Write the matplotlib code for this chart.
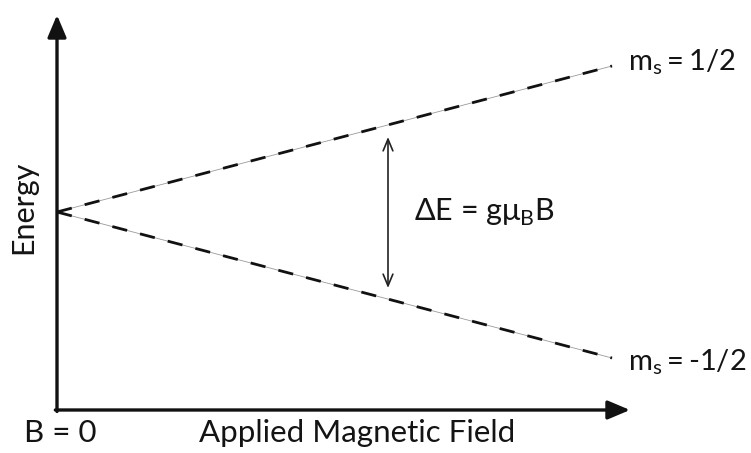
import matplotlib
matplotlib.use("Agg")
import matplotlib.pyplot as plt

# Data: Zeeman splitting of electron spin levels
field = [0.0, 1.0]                 # applied magnetic field (arbitrary units)
energy_up = [0.0, 1.0]             # m_s = +1/2
energy_down = [0.0, -1.0]          # m_s = -1/2
level_labels = [r"m$_\mathregular{s}\,$=$\,$1/2", r"m$_\mathregular{s}\,$=$\,$-1/2"]
gap_label = r"ΔE = gμ$_\mathregular{B}$B"
x_label = "Applied Magnetic Field"
y_label = "Energy"
origin_label = "B = 0"

plt.rcParams['font.family'] = ['Lato', 'DejaVu Sans']
plt.rcParams['mathtext.fontset'] = 'custom'
plt.rcParams['mathtext.rm'] = 'Lato'

W, H = 751, 453
fig = plt.figure(figsize=(W / 100, H / 100), dpi=100)
ax = fig.add_axes([0, 0, 1, 1])
ax.set_axis_off()

# map data to pixels: B 0->57px, 1->612px ; E 0->212px, 1->66px
sx = 555.0
sy = 146.0
ax.set_xlim(-57 / sx, (W - 57) / sx)
ax.set_ylim((212 - H) / sy, 212 / sy)

y_axis_bottom = -(410 - 212) / sy
y_axis_top = (212 - 15) / sy
x_axis_right = (630 - 57) / sx

TXT = '#141414'

# axes arrows
arrow_kw = dict(arrowstyle='-|>,head_length=0.9,head_width=0.38', lw=2.4,
                color='#111111', mutation_scale=15, shrinkA=0, shrinkB=0)
ax.annotate('', xy=(0, y_axis_top), xytext=(0, y_axis_bottom - 0.01),
            arrowprops=arrow_kw)
ax.annotate('', xy=(x_axis_right, y_axis_bottom), xytext=(-0.003, y_axis_bottom),
            arrowprops=arrow_kw)

# energy levels: thin grey line under black dashes
for e in (energy_up, energy_down):
    ax.plot(field, e, color='#9a9a9a', lw=0.6, zorder=2)
    ax.plot(field, e, color='#111111', lw=2.0, linestyle=(0, (5.5, 4.8)),
            dash_capstyle='butt', zorder=3)

# level labels
ax.text(field[-1] + 16 / sx, energy_up[-1] + 0.03, level_labels[0], fontsize=21,
        ha='left', va='center', color=TXT)
ax.text(field[-1] + 16 / sx, energy_down[-1] - 0.03, level_labels[1], fontsize=21,
        ha='left', va='center', color=TXT)

# double arrow showing splitting
xb = (388 - 57) / sx
ax.annotate('', xy=(xb, (212 - 137) / sy), xytext=(xb, (212 - 288) / sy),
            arrowprops=dict(arrowstyle='<->,head_length=0.6,head_width=0.25',
                            lw=1.2, color='#222222', mutation_scale=14,
                            shrinkA=0, shrinkB=0))
ax.text((414 - 57) / sx, 0.0, gap_label, fontsize=22, ha='left', va='center',
        color=TXT)

# axis labels
ax.text(-34 / sx, 0.03, y_label, fontsize=22, rotation=90, ha='center',
        va='center', color=TXT)
ax.text((357 - 57) / sx, (212 - 433) / sy, x_label, fontsize=22.5, ha='center',
        va='center', color=TXT)
ax.text((60 - 57) / sx, (212 - 433) / sy, origin_label, fontsize=22.5,
        ha='center', va='center', color=TXT)

fig.savefig("out.png", dpi=100, facecolor='white')
